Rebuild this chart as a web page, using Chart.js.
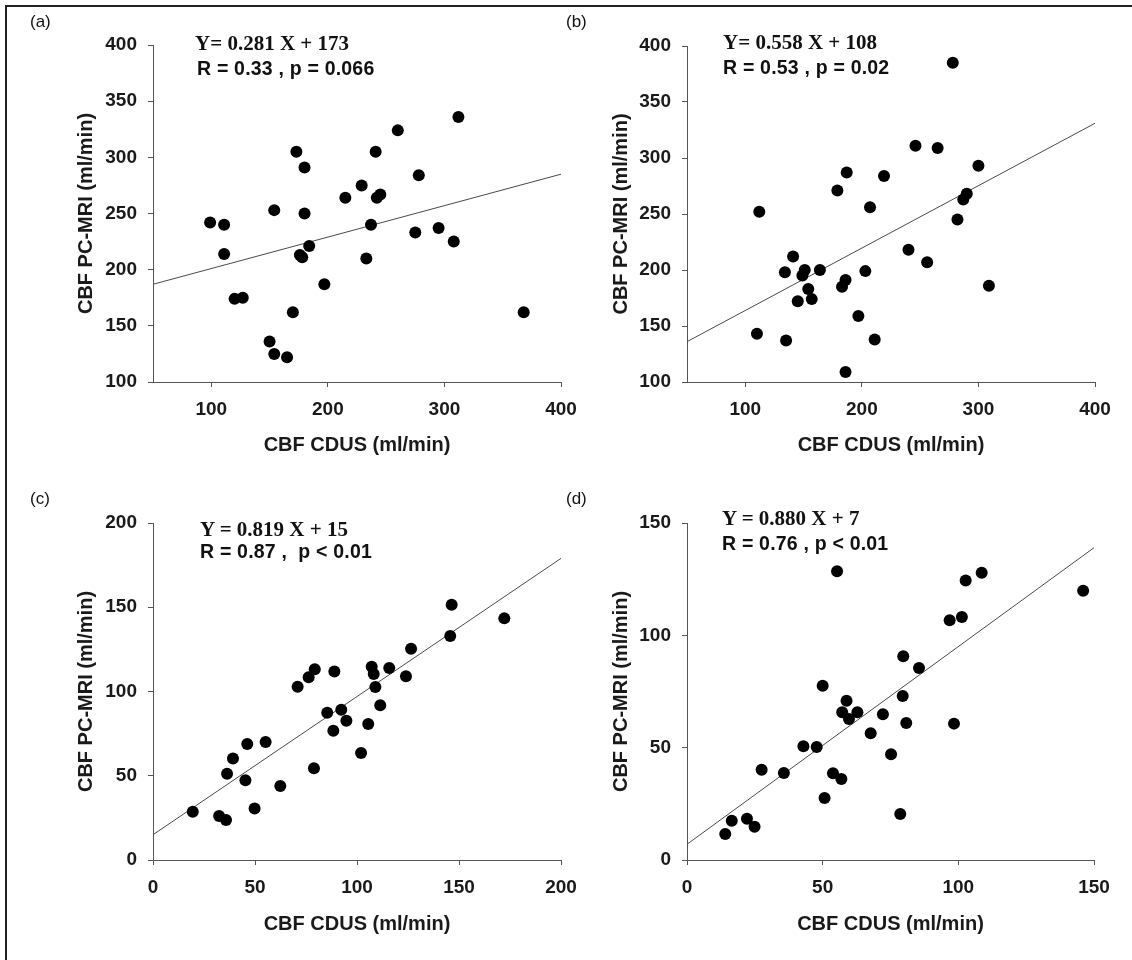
<!DOCTYPE html>
<html>
<head>
<meta charset="utf-8">
<script src="https://cdn.jsdelivr.net/npm/chart.js@4/dist/chart.umd.min.js"></script>
<style>
  body { margin: 0; background: #fff; }
  #page { position: relative; width: 1132px; height: 960px; overflow: hidden; background: #fff; }
  canvas { position: absolute; }
  .frameTop { position: absolute; left: 5px; top: 5px; width: 1127px; height: 2px; background: #222; }
  .frameLeft { position: absolute; left: 5px; top: 5px; width: 2px; height: 955px; background: #222; }
  .lbl { position: absolute; line-height: 1; white-space: pre; color: #111; }
  .panel { font-family: "Liberation Sans", Arial, sans-serif; font-size: 17px; }
  .eq { font-family: "Liberation Serif", "Times New Roman", serif; font-weight: bold; font-size: 21px; }
  .rp { font-family: "Liberation Sans", Arial, sans-serif; font-weight: bold; font-size: 19.5px; letter-spacing: 0.2px; }
</style>
</head>
<body>
<div id="page">
  <div class="frameTop"></div>
  <div class="frameLeft"></div>
  <canvas id="chartA" width="600" height="478" style="left:0px;top:0px"></canvas>
  <canvas id="chartB" width="556" height="478" style="left:576px;top:0px"></canvas>
  <canvas id="chartC" width="600" height="482" style="left:0px;top:478px"></canvas>
  <canvas id="chartD" width="556" height="482" style="left:576px;top:478px"></canvas>

  <div class="lbl panel" style="left:30px;top:13px">(a)</div>
  <div class="lbl panel" style="left:566px;top:13px">(b)</div>
  <div class="lbl panel" style="left:30px;top:490px">(c)</div>
  <div class="lbl panel" style="left:566px;top:490px">(d)</div>

  <div class="lbl eq" style="left:195px;top:33px">Y= 0.281 X + 173</div>
  <div class="lbl rp" style="left:197px;top:59px">R = 0.33 , p = 0.066</div>
  <div class="lbl eq" style="left:723px;top:32px">Y= 0.558 X + 108</div>
  <div class="lbl rp" style="left:723px;top:58px">R = 0.53 , p = 0.02</div>
  <div class="lbl eq" style="left:200px;top:519px">Y = 0.819 X + 15</div>
  <div class="lbl rp" style="left:200px;top:542px">R = 0.87 ,  p &lt; 0.01</div>
  <div class="lbl eq" style="left:722px;top:508px">Y = 0.880 X + 7</div>
  <div class="lbl rp" style="left:722px;top:534px">R = 0.76 , p &lt; 0.01</div>
</div>

<script>
// data (CDUS vs PC-MRI, ml/min)
const xA = [99, 111, 111, 120, 127, 154, 150, 154, 165, 170, 180, 176, 178, 184, 197, 215, 229, 242, 245, 237, 233, 275, 173, 180, 241, 260, 278, 312, 295, 308, 368];
const yA = [242, 240, 214, 174, 175, 253, 136, 125, 122, 162, 250, 213, 211, 221, 187, 264, 275, 264, 267, 240, 210, 233, 305, 291, 305, 324, 284, 336, 237, 225, 162];

const xB = [278, 246, 265, 187, 219, 179, 207, 112, 141, 134, 151, 149, 164, 154, 145, 157, 186, 183, 203, 197, 211, 186, 110, 135, 240, 256, 282, 300, 290, 287, 309];
const yB = [385, 311, 309, 287, 284, 271, 256, 252, 212, 198, 200, 195, 200, 183, 172, 174, 191, 185, 199, 159, 138, 109, 143, 137, 218, 207, 245, 293, 268, 263, 186];

const xC = [19.5, 32.4, 35.8, 36.3, 39.2, 45.3, 46.2, 49.8, 55.2, 62.4, 70.9, 76.3, 79.3, 78.9, 88.9, 85.4, 92.3, 88.4, 94.8, 102, 105.5, 107.2, 108.2, 109, 111.4, 115.8, 124, 146.4, 172.2, 145.7, 126.5];
const yC = [28.7, 26.1, 23.7, 51.2, 60.3, 47.3, 68.8, 30.5, 70, 43.9, 102.8, 108.4, 113.2, 54.4, 111.8, 87.4, 89.2, 76.7, 82.7, 63.5, 80.7, 114.7, 110.4, 102.7, 91.8, 114, 109, 151.5, 143.4, 133, 125.4];

const xD = [14.1, 16.5, 22.1, 24.9, 27.5, 35.7, 42.9, 47.8, 50, 50.7, 53.8, 56.9, 58.8, 57.2, 59.7, 62.8, 67.7, 72.2, 75.2, 78.6, 79.5, 80.8, 85.5, 79.7, 98.4, 55.3, 96.8, 101.3, 102.7, 108.6, 146];
const yD = [11.6, 17.5, 18.4, 14.8, 40.2, 38.7, 50.6, 50.3, 77.6, 27.6, 38.6, 36.1, 70.9, 65.8, 62.8, 65.8, 56.4, 64.9, 47.1, 20.5, 73, 61, 85.5, 90.7, 60.7, 128.5, 106.7, 108.2, 124.4, 127.9, 119.8];

// regression line end points
const fitXA = [50, 400], fitYA = [187, 285];
const fitXB = [50, 400], fitYB = [136, 331];
const fitXC = [0, 200], fitYC = [15, 179];
const fitXD = [0, 150], fitYD = [7, 139];

// tick labels
const xTicksAB = [100, 200, 300, 400];
const yTicksAB = [100, 150, 200, 250, 300, 350, 400];
const xTicksC = [0, 50, 100, 150, 200];
const yTicksC = [0, 50, 100, 150, 200];
const xTicksD = [0, 50, 100, 150];
const yTicksD = [0, 50, 100, 150];

Chart.defaults.font.family = '"Liberation Sans", Arial, sans-serif';
Chart.defaults.color = '#1a1a1a';

function makePanel(id, xs, ys, fitX, fitY, xr, xTicks, yr, yTicks, box) {
    const pts = xs.map((x, i) => ({ x: x, y: ys[i] }));
    const fit = fitX.map((x, i) => ({ x: x, y: fitY[i] }));
    new Chart(document.getElementById(id), {
        type: 'scatter',
        data: {
            datasets: [
                { data: pts, backgroundColor: '#000', borderColor: '#000', pointRadius: 6, pointHoverRadius: 6, borderWidth: 0 },
                { type: 'line', data: fit, borderColor: '#4a4a4a', borderWidth: 1, pointRadius: 0, fill: false, tension: 0 }
            ]
        },
        options: {
            responsive: false,
            animation: false,
            events: [],
            plugins: { legend: { display: false }, tooltip: { enabled: false } },
            layout: { padding: { left: 0, top: box.top, right: box.right, bottom: 0 } },
            scales: {
                x: {
                    type: 'linear', min: xr[0], max: xr[1],
                    afterBuildTicks: s => { s.ticks = xTicks.map(v => ({ value: v })); },
                    afterFit: s => { s.height = box.xh; },
                    grid: { drawOnChartArea: false, color: '#555', tickLength: 5 },
                    border: { color: '#555', width: 1 },
                    ticks: { padding: 11, maxRotation: 0, font: { size: 19, weight: 'bold' } },
                    title: { display: true, text: 'CBF CDUS (ml/min)', font: { size: 20, weight: 'bold', lineHeight: 1 }, padding: { top: 0, bottom: box.xt } }
                },
                y: {
                    type: 'linear', min: yr[0], max: yr[1],
                    afterBuildTicks: s => { s.ticks = yTicks.map(v => ({ value: v })); },
                    afterFit: s => { s.width = box.yw; },
                    grid: { drawOnChartArea: false, color: '#555', tickLength: 5 },
                    border: { color: '#555', width: 1 },
                    ticks: { padding: 11, font: { size: 19, weight: 'bold' } },
                    title: { display: true, text: 'CBF PC-MRI (ml/min)', font: { size: 20, weight: 'bold', lineHeight: 1 }, padding: { top: box.yt, bottom: 0 } }
                }
            }
        }
    });
}

makePanel('chartA', xA, yA, fitXA, fitYA, [50, 400], xTicksAB, [100, 400], yTicksAB, { top: 45, right: 39, xh: 96, yw: 153, xt: 23, yt: 76 });
makePanel('chartB', xB, yB, fitXB, fitYB, [50, 400], xTicksAB, [100, 400], yTicksAB, { top: 46, right: 37, xh: 96, yw: 111, xt: 23, yt: 35 });
makePanel('chartC', xC, yC, fitXC, fitYC, [0, 200], xTicksC, [0, 200], yTicksC, { top: 45, right: 39, xh: 100, yw: 153, xt: 26, yt: 76 });
makePanel('chartD', xD, yD, fitXD, fitYD, [0, 150], xTicksD, [0, 150], yTicksD, { top: 45, right: 38, xh: 100, yw: 111, xt: 26, yt: 35 });
</script>
</body>
</html>
